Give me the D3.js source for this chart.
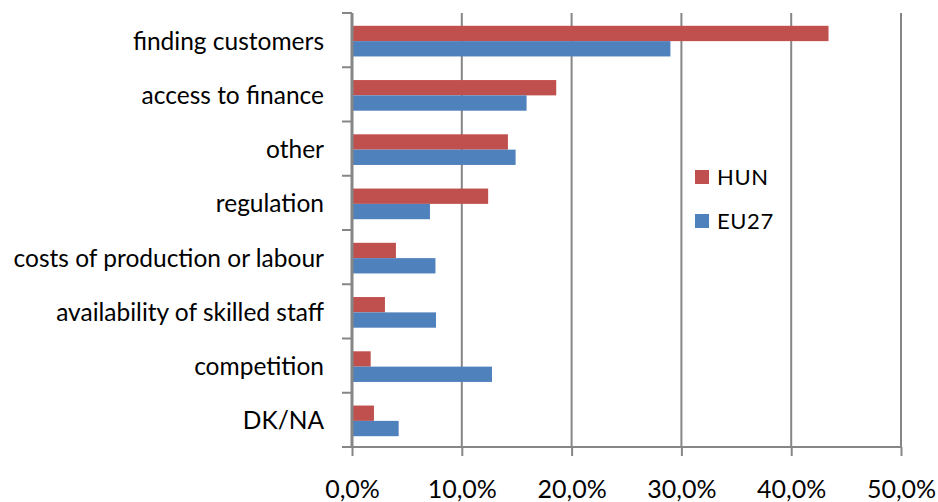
<!DOCTYPE html>
<html><head><meta charset="utf-8">
<script src="https://cdn.jsdelivr.net/npm/d3@7"></script>
<style>body{margin:0;background:#fff}svg{display:block}</style>
</head><body>
<svg id="c" width="938" height="502"></svg>
<script>
const categories = ["finding customers","access to finance","other","regulation","costs of production or labour","availability of skilled staff","competition","DK/NA"];
const seriesNames = ["HUN","EU27"];
const hunValues = [43.4, 18.6, 14.2, 12.4, 4.0, 3.0, 1.7, 2.0];
const eu27Values = [29.0, 15.9, 14.9, 7.1, 7.6, 7.65, 12.75, 4.25];
const xTicks = [0,10,20,30,40,50];
const colors = ["#C0504D","#4F81BD"];

(function(){
const svg = d3.select("#c");
const font = "Lato, 'Open Sans', sans-serif";
const mLeft = 352, mRight = 901, mTop = 13, mBottom = 447;
const x = d3.scaleLinear().domain([0,50]).range([mLeft,mRight]);
const y = d3.scaleBand().domain(categories).range([mTop,mBottom]).paddingInner(0).paddingOuter(0);
const inner = d3.scaleBand().domain(seriesNames).range([0,y.bandwidth()]).paddingInner(0).paddingOuter(0.77);

// gridlines
svg.append("g").selectAll("line").data(xTicks.slice(1)).join("line")
  .attr("x1", d=>x(d)).attr("x2", d=>x(d)).attr("y1", mTop).attr("y2", mBottom)
  .attr("stroke","#868686").attr("stroke-width",2);

// bars
const data = categories.map((c,i)=>({c, vals:[hunValues[i], eu27Values[i]]}));
const g = svg.append("g");
data.forEach(d=>{
  d.vals.forEach((v,j)=>{
    g.append("rect").attr("x", x(0)).attr("y", y(d.c)+inner(seriesNames[j])+1)
      .attr("width", x(v)-x(0)).attr("height", inner.bandwidth())
      .attr("fill", colors[j]);
  });
});

// bottom axis
const xAxis = d3.axisBottom(x).tickValues(xTicks).tickSizeInner(9).tickSizeOuter(0)
  .tickFormat(d=>d.toFixed(1).replace(".",",")+"%");
const ax = svg.append("g").attr("transform",`translate(0,${mBottom})`).call(xAxis);
ax.select(".domain").remove();
ax.append("line").attr("x1",342).attr("x2",mRight).attr("y1",0).attr("y2",0).attr("stroke","#868686").attr("stroke-width",2);
ax.selectAll(".tick line").attr("stroke","#868686").attr("stroke-width",2);
ax.selectAll(".tick text").attr("fill","#000").attr("font-family",font).attr("font-size",25).attr("dy",0).attr("y",51);

// left axis
const boundaries = categories.map(c=>y(c)).concat([mBottom]);
svg.append("line").attr("x1",mLeft).attr("x2",mLeft).attr("y1",mTop).attr("y2",mBottom+1)
  .attr("stroke","#868686").attr("stroke-width",3);
svg.append("g").selectAll("line").data(boundaries).join("line")
  .attr("x1",342).attr("x2",mLeft).attr("y1",d=>d).attr("y2",d=>d)
  .attr("stroke","#868686").attr("stroke-width",2);

// category labels
svg.append("g").selectAll("text").data(categories).join("text")
  .attr("x",324).attr("y",d=>y(d)+y.bandwidth()/2+1).attr("dy","0.35em")
  .attr("text-anchor","end").attr("font-family",font).attr("font-size",24.5).attr("fill","#000")
  .text(d=>d);

// legend
const lg = svg.append("g");
seriesNames.forEach((s,i)=>{
  lg.append("rect").attr("x",695).attr("y",170+i*44).attr("width",14).attr("height",14).attr("fill",colors[i]);
  lg.append("text").attr("x",717).attr("y",185+i*44).attr("font-family",font).attr("font-size",22).attr("letter-spacing",0.6).attr("fill","#000").text(s);
});
})();
</script>
</body></html>
